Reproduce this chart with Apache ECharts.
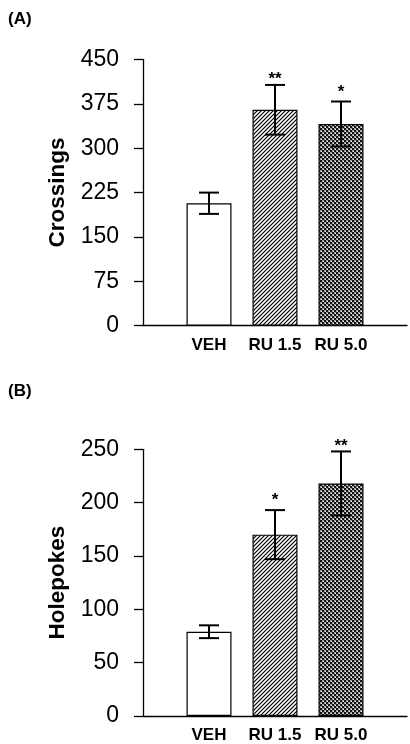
<!DOCTYPE html>
<html><head><meta charset="utf-8">
<script src="https://cdn.jsdelivr.net/npm/echarts@6/dist/echarts.min.js"></script>
<style>html,body{margin:0;padding:0;background:#fff}#c{width:410px;height:744px}</style>
</head><body><div id="c"></div>
<script>
// ---- data ----
const categories = ['VEH', 'RU 1.5', 'RU 5.0'];
const crossingsMean = [207, 365, 341];
const crossingsErr = [18, 42, 38];
const crossingsSig = ['', '**', '*'];
const holepokesMean = [79, 170, 218];
const holepokesErr = [6, 23, 30];
const holepokesSig = ['', '*', '**'];
const crossingsTicks = [0, 75, 150, 225, 300, 375, 450];
const holepokesTicks = [0, 50, 100, 150, 200, 250];

// ---- fill patterns ----
function hatch() {
  const c = document.createElement('canvas'); c.width = 4; c.height = 4;
  const g = c.getContext('2d');
  g.fillStyle = '#fff'; g.fillRect(0, 0, 4, 4);
  g.strokeStyle = '#000'; g.lineWidth = 1.2;
  g.beginPath();
  g.moveTo(-1, 5); g.lineTo(5, -1);
  g.moveTo(-1, 1); g.lineTo(1, -1);
  g.moveTo(3, 5); g.lineTo(5, 3);
  g.stroke();
  return c;
}
function checker() {
  const c = document.createElement('canvas'); c.width = 4; c.height = 4;
  const g = c.getContext('2d');
  g.fillStyle = '#9a9a9a'; g.fillRect(0, 0, 4, 4);
  g.fillStyle = '#111'; g.fillRect(0, 0, 2, 2); g.fillRect(2, 2, 2, 2);
  g.fillStyle = '#fff'; g.fillRect(1, 3, 1, 1); g.fillRect(3, 1, 1, 1);
  return c;
}
const fills = [
  '#ffffff',
  { image: hatch(), repeat: 'repeat' },
  { image: checker(), repeat: 'repeat' }
];

const FONT = 'Liberation Sans, Arial, sans-serif';
const chart = echarts.init(document.getElementById('c'), null, { renderer: 'canvas' });

function barData(means) {
  return means.map((v, i) => ({ value: [i + 1, v], itemStyle: { color: fills[i] } }));
}
function errData(means, errs) {
  return means.map((v, i) => [i + 1, v - errs[i], v + errs[i]]);
}
function errRender(sig) {
  return function (params, api) {
    const x = api.value(0), lo = api.value(1), hi = api.value(2);
    const pLo = api.coord([x, lo]), pHi = api.coord([x, hi]);
    const hw = 10;
    const st = { stroke: '#000', lineWidth: 2 };
    const s = sig[params.dataIndex];
    const children = [
      { type: 'line', z2: 100, shape: { x1: pHi[0], y1: pHi[1], x2: pLo[0], y2: pLo[1] }, style: st },
      { type: 'line', z2: 100, shape: { x1: pHi[0] - hw, y1: pHi[1], x2: pHi[0] + hw, y2: pHi[1] }, style: st },
      { type: 'line', z2: 100, shape: { x1: pLo[0] - hw, y1: pLo[1], x2: pLo[0] + hw, y2: pLo[1] }, style: st }
    ];
    if (s) {
      children.push({
        type: 'text', z2: 100,
        style: {
          text: s, x: pHi[0], y: pHi[1] + (s.length > 1 ? 3 : -1),
          align: 'center', verticalAlign: 'bottom',
          font: 'bold 17px ' + FONT, fill: '#000'
        }
      });
    }
    return { type: 'group', children: children };
  };
}

function xAxisOpt(gi) {
  return {
    type: 'value', gridIndex: gi, min: 0, max: 4, interval: 1,
    splitLine: { show: false },
    axisTick: { show: false },
    axisLine: { lineStyle: { color: '#000', width: 1.3 } },
    axisLabel: {
      margin: 11, color: '#000', fontFamily: FONT, fontWeight: 'bold', fontSize: 17,
      formatter: v => categories[v - 1] || ''
    }
  };
}
function yAxisOpt(gi, ticks, name) {
  return {
    type: 'value', gridIndex: gi, min: ticks[0], max: ticks[ticks.length - 1],
    interval: ticks[1] - ticks[0],
    name: name, nameLocation: 'middle', nameGap: 74,
    nameTextStyle: { color: '#000', fontFamily: FONT, fontWeight: 'bold', fontSize: 22.5 },
    splitLine: { show: false },
    axisLine: { show: true, lineStyle: { color: '#000', width: 1.3 } },
    axisTick: { show: true, length: 9, lineStyle: { color: '#000', width: 1.3 } },
    axisLabel: { margin: 24, color: '#000', fontFamily: FONT, fontSize: 23 }
  };
}

chart.setOption({
  animation: false,
  backgroundColor: '#fff',
  grid: [
    { left: 143, top: 59.5, width: 268, height: 266.2 },
    { left: 143, top: 449.3, width: 268, height: 267 }
  ],
  xAxis: [xAxisOpt(0), xAxisOpt(1)],
  yAxis: [yAxisOpt(0, crossingsTicks, 'Crossings'), yAxisOpt(1, holepokesTicks, 'Holepokes')],
  graphic: [
    { type: 'text', left: 8, top: 11, style: { text: '(A)', font: 'bold 17px ' + FONT, fill: '#000' } },
    { type: 'text', left: 8, top: 383, style: { text: '(B)', font: 'bold 17px ' + FONT, fill: '#000' } }
  ],
  series: [
    { type: 'bar', xAxisIndex: 0, yAxisIndex: 0, barWidth: 45, data: barData(crossingsMean),
      itemStyle: { borderColor: '#000', borderWidth: 1.2 } },
    { type: 'bar', xAxisIndex: 1, yAxisIndex: 1, barWidth: 45, data: barData(holepokesMean),
      itemStyle: { borderColor: '#000', borderWidth: 1.2 } },
    { type: 'custom', xAxisIndex: 0, yAxisIndex: 0, z: 10, zlevel: 1, clip: false,
      renderItem: errRender(crossingsSig), data: errData(crossingsMean, crossingsErr) },
    { type: 'custom', xAxisIndex: 1, yAxisIndex: 1, z: 10, zlevel: 1, clip: false,
      renderItem: errRender(holepokesSig), data: errData(holepokesMean, holepokesErr) }
  ]
});
</script></body></html>
